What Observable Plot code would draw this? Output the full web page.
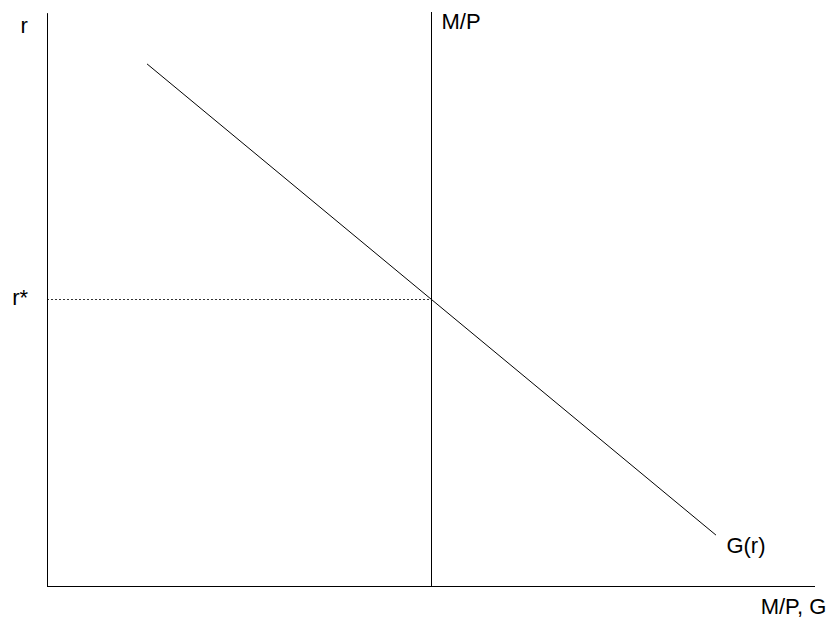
<!DOCTYPE html>
<html>
<head>
<meta charset="utf-8">
<script src="https://cdn.jsdelivr.net/npm/d3@7"></script>
<script src="https://cdn.jsdelivr.net/npm/@observablehq/plot@0.6"></script>
<style>
  html, body { margin: 0; padding: 0; background: #fff; }
  svg { display: block; }
</style>
</head>
<body>
<div id="chart"></div>
<script>
// Conceptual diagram: money market (vertical M/P) and G(r) schedule
const axisExtent = 100;           // axes run from 0 to 100 in both directions
const moneySupply = 50;           // M/P vertical line position
const rStar = 50;                 // equilibrium interest rate
const gCurveX = [13, 87];         // G(r) endpoints, x
const gCurveY = [91, 9];          // G(r) endpoints, y
const labelText = ["r", "r*", "M/P", "G(r)", "M/P, G"];
const labelX = [-3.5, -4.6, 51.3, 88.4, 101.4];
const labelY = [97.6, 50.2, 98.3, 7.1, -3.5];
const labelAnchor = ["start", "start", "start", "start", "end"];

const gCurve = gCurveX.map((x, i) => ({x, y: gCurveY[i]}));
const labels = labelText.map((t, i) => ({t, x: labelX[i], y: labelY[i], a: labelAnchor[i]}));

const font = "'Liberation Sans', Arial, sans-serif";

const chart = Plot.plot({
  width: 829,
  height: 618,
  marginLeft: 47,
  marginRight: 14,
  marginTop: 12,
  marginBottom: 32,
  x: {domain: [0, axisExtent], axis: null},
  y: {domain: [0, axisExtent], axis: null},
  style: {fontFamily: font, background: "#fff"},
  marks: [
    // axes
    Plot.ruleX([0], {y1: 0, y2: axisExtent - 0.2, stroke: "#000", strokeWidth: 1}),
    Plot.ruleY([0], {x1: 0, x2: axisExtent, stroke: "#000", strokeWidth: 1}),
    // dashed r* line
    Plot.ruleY([rStar], {x1: 0, x2: moneySupply, stroke: "#000", strokeWidth: 0.8, strokeDasharray: "2,2"}),
    // M/P vertical
    Plot.ruleX([moneySupply], {y1: 0, y2: axisExtent, stroke: "#000", strokeWidth: 1}),
    // G(r)
    Plot.line(gCurve, {x: "x", y: "y", stroke: "#000", strokeWidth: 1}),
    // labels
    Plot.text(labels.filter(d => d.a === "start"), {x: "x", y: "y", text: "t", textAnchor: "start", fontSize: 22, fill: "#000"}),
    Plot.text(labels.filter(d => d.a === "end"), {x: "x", y: "y", text: "t", textAnchor: "end", fontSize: 22, fill: "#000"})
  ]
});
document.getElementById("chart").appendChild(chart);
</script>
</body>
</html>
